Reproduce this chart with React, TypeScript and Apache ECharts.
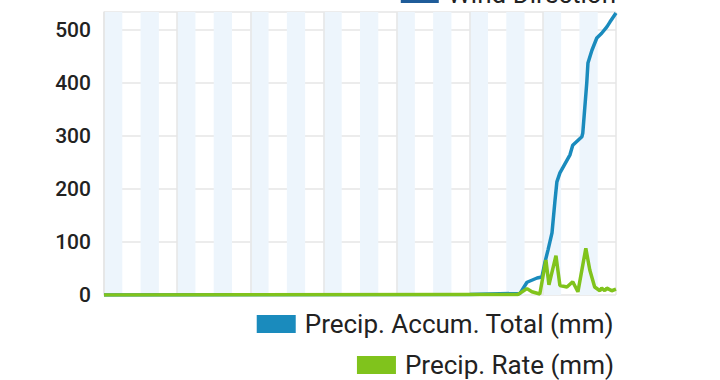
import React, { useEffect, useRef } from "react";
import * as echarts from "echarts";

const accumHours = [0, 120, 136.5, 138.8, 142.1, 143.7, 144.7, 145.7, 147, 148, 148.6, 149.6, 152.9, 153.8, 156.8, 157.1, 158.4, 158.8, 160.1, 161.7, 163.3, 165, 166, 168];
const accumValues = [0, 1, 3, 24, 32, 34, 62, 85, 117, 179, 213, 230, 264, 282, 298, 305, 399, 437, 461, 484, 493, 505, 514, 531];
const rateHours = [0, 120, 135.8, 138.8, 140.4, 143, 145, 146, 148.3, 149.6, 151.9, 153.8, 155.5, 158.1, 159.4, 161, 162.7, 163.3, 164.3, 165, 166.6, 168];
const rateValues = [0, 1, 1, 12, 6, 2, 66, 19, 74, 18, 15, 25, 6, 88, 47, 15, 8, 13, 8, 13, 8, 11];
const seriesNames = ["Wind Direction", "Precip. Accum. Total (mm)", "Precip. Rate (mm)"];
const seriesColors = ["#1f5c99", "#1a8bbd", "#80c31c"];
const yMax = 533;
const xMax = 168;

export default function App() {
  const ref = useRef<HTMLDivElement>(null);
  useEffect(() => {
    const chart = echarts.init(ref.current!, null, { renderer: "svg" });
    const font = "Roboto, 'Noto Sans', sans-serif";
    const legendText = { color: "#222", fontSize: 26, fontFamily: font, padding: [0, 0, 0, 4] };
    chart.setOption({
      animation: false,
      backgroundColor: "#fff",
      grid: { left: 104, right: 104, top: 12, bottom: 85, containLabel: false },
      legend: [
        { data: [seriesNames[0]], right: 104, top: -19, icon: "rect", itemWidth: 38, itemHeight: 18, padding: 0, textStyle: legendText, selectedMode: false },
        { data: [seriesNames[1]], right: 106, top: 311, icon: "rect", itemWidth: 39, itemHeight: 18, padding: 0, textStyle: legendText, selectedMode: false },
        { data: [seriesNames[2]], right: 106, top: 352, icon: "rect", itemWidth: 39, itemHeight: 18, padding: 0, textStyle: legendText, selectedMode: false },
      ],
      xAxis: [
        {
          type: "value", min: 0, max: xMax, interval: 6,
          axisLine: { show: false }, axisTick: { show: false }, axisLabel: { show: false },
          splitLine: { show: false },
          splitArea: { show: true, areaStyle: { color: ["#edf5fc", "rgba(255,255,255,0)"] } },
        },
        {
          type: "value", min: 0, max: xMax, interval: 24, position: "bottom",
          axisLine: { show: false }, axisTick: { show: false }, axisLabel: { show: false },
          splitLine: { show: true, lineStyle: { color: "#e6e6e6", width: 1.5 } },
        },
      ],
      yAxis: {
        type: "value", min: 0, max: yMax, interval: 100,
        axisLine: { show: true, lineStyle: { color: "#e6e6e6", width: 1.5 } },
        axisTick: { show: false },
        axisLabel: { color: "#222", fontSize: 21, fontWeight: 500, fontFamily: font, margin: 13, showMaxLabel: false },
        splitLine: { show: true, lineStyle: { color: "#e6e6e6", width: 1.5 } },
      },
      series: [
        { name: seriesNames[0], type: "line", data: [], color: seriesColors[0], showSymbol: false },
        {
          name: seriesNames[1], type: "line", color: seriesColors[1], showSymbol: false,
          lineStyle: { width: 3.5 }, data: accumHours.map((h, i) => [h, accumValues[i]]),
        },
        {
          name: seriesNames[2], type: "line", color: seriesColors[2], showSymbol: false,
          lineStyle: { width: 3.5 }, data: rateHours.map((h, i) => [h, rateValues[i]]),
        },
      ],
    });
    return () => chart.dispose();
  }, []);
  return <div ref={ref} style={{ position: "fixed", left: 0, top: 0, width: 720, height: 380 }} />;
}
